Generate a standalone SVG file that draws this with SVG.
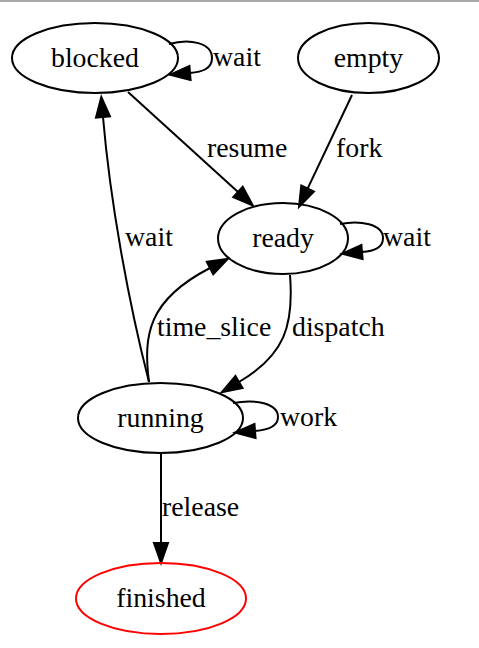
<svg xmlns="http://www.w3.org/2000/svg" width="479" height="648" viewBox="0 0 479 648">
<style>
.node ellipse{fill:none;stroke:#000;stroke-width:2}
.node text,.lbl{font-family:"Liberation Serif","Times New Roman",serif;font-size:27.8px;fill:#000}
.node text{text-anchor:middle}
.edge{fill:none;stroke:#000;stroke-width:2;marker-end:url(#arr)}
</style>
<defs>
<marker id="arr" markerUnits="userSpaceOnUse" markerWidth="24" markerHeight="18" refX="0" refY="7" orient="auto" overflow="visible">
<path d="M0,0 L20,7 L0,14 z" fill="#000" stroke="#000" stroke-width="2"/>
</marker>
</defs>
<rect width="479" height="648" fill="#fff"/>
<line x1="0" y1="1" x2="479" y2="1" stroke="#a8a8a8" stroke-width="2"/>
<g id="connectors">
<path class="edge" d="M169,44 C190,38 212,43 212,58 C212,69 202,72 190,73"/>
<path class="edge" d="M340,224 C360,220 383,224 383,238 C383,248 374,251 362,252"/>
<path class="edge" d="M233,403 C255,399 278,403 278,417 C278,427 268,430 255,431"/>
<path class="edge" d="M128,92 L238,192"/>
<path class="edge" d="M352,95 L307.6,188.6"/>
<path class="edge" d="M149,382 C128,300 110,200 103,117"/>
<path class="edge" d="M149,382 C143,335 148,300 210,268"/>
<path class="edge" d="M290,275 C294,325 285,355 239,382"/>
<path class="edge" d="M161,453 L161,543"/>
<text class="lbl" x="213" y="66">wait</text>
<text class="lbl" x="207" y="157">resume</text>
<text class="lbl" x="336" y="157">fork</text>
<text class="lbl" x="383" y="246">wait</text>
<text class="lbl" x="125" y="246">wait</text>
<text class="lbl" x="157" y="336">time_slice</text>
<text class="lbl" x="292" y="336">dispatch</text>
<text class="lbl" x="280" y="426">work</text>
<text class="lbl" x="162" y="516">release</text>
</g>
<g id="blocked" class="node"><ellipse cx="95" cy="58" rx="83" ry="35"/><text x="95" y="66.5">blocked</text></g>
<g id="empty" class="node"><ellipse cx="368.5" cy="58" rx="70.5" ry="35"/><text x="368.5" y="66.5">empty</text></g>
<g id="ready" class="node"><ellipse cx="283" cy="238.5" rx="65" ry="35.5"/><text x="283" y="246.5">ready</text></g>
<g id="running" class="node"><ellipse cx="160.5" cy="418" rx="82.5" ry="35"/><text x="160.5" y="426.5">running</text></g>
<g id="finished" class="node"><ellipse cx="161" cy="598.5" rx="85" ry="35.5" style="stroke:#f00"/><text x="161" y="607">finished</text></g>
</svg>
